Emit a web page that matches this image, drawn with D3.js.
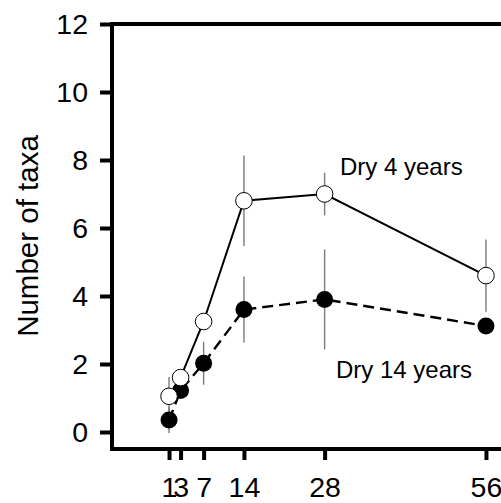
<!DOCTYPE html>
<html>
<head>
<meta charset="utf-8">
<script src="https://cdn.jsdelivr.net/npm/d3@7"></script>
<style>
  html, body { margin: 0; padding: 0; background: #fff; }
  svg { display: block; }
  text { font-family: "Liberation Sans", Arial, sans-serif; fill: #000; }
</style>
</head>
<body>
<svg id="chart" width="501" height="503"></svg>
<script>
// ---- data ----
const days = [1, 3, 7, 14, 28, 56];
const dry4 = [1.05, 1.6, 3.25, 6.8, 7.0, 4.6];
const dry4Err = [0.57, 0.2, 0.15, 1.33, 0.63, 1.06];
const dry14 = [0.35, 1.22, 2.02, 3.6, 3.9, 3.12];
const dry14Err = [0.38, 0.2, 0.63, 0.97, 1.47, 0.2];
const yTicks = [0, 2, 4, 6, 8, 10, 12];
const xTicks = [1, 3, 7, 14, 28, 56];
const yLabel = "Number of taxa";
const label4 = "Dry 4 years";
const label14 = "Dry 14 years";

const svg = d3.select("#chart");
const x = d3.scaleLinear().domain([-8.9, 60]).range([112, 509]);
const y = d3.scaleLinear().domain([-0.5, 12]).range([449, 24]);

// axes
const yAxis = d3.axisLeft(y).tickValues(yTicks).tickSize(12).tickPadding(12).tickFormat(d3.format("d"));
const gy = svg.append("g").attr("transform", `translate(${x.range()[0]},0)`).call(yAxis);
const xAxis = d3.axisBottom(x).tickValues(xTicks).tickSize(11).tickPadding(17).tickFormat(d3.format("d"));
const gx = svg.append("g").attr("transform", `translate(0,${y.range()[0]})`).call(xAxis);
[gx, gy].forEach(g => {
  g.select(".domain").remove();
  g.selectAll(".tick line").attr("stroke", "#000").attr("stroke-width", 4);
  g.selectAll(".tick text").attr("font-size", 28.5).attr("font-family", "'Liberation Sans', Arial, sans-serif");
});

// box frame
svg.append("rect")
  .attr("x", x.range()[0]).attr("y", y.range()[1])
  .attr("width", x.range()[1] - x.range()[0])
  .attr("height", y.range()[0] - y.range()[1])
  .attr("fill", "none").attr("stroke", "#000").attr("stroke-width", 4);

// y label
svg.append("text")
  .attr("transform", `translate(38,236) rotate(-90)`)
  .attr("text-anchor", "middle")
  .attr("font-size", 29.5)
  .text(yLabel);

const s4 = days.map((d, i) => ({ d, v: dry4[i], e: dry4Err[i] }));
const s14 = days.map((d, i) => ({ d, v: dry14[i], e: dry14Err[i] }));

// error bars
[s14, s4].forEach(s => {
  svg.append("g").selectAll("line").data(s).join("line")
    .attr("x1", p => x(p.d)).attr("x2", p => x(p.d))
    .attr("y1", p => y(p.v - p.e)).attr("y2", p => y(p.v + p.e))
    .attr("stroke", "#7a7a7a").attr("stroke-width", 1.4);
});

const line = d3.line().x(p => x(p.d)).y(p => y(p.v));
svg.append("path").datum(s14).attr("d", line)
  .attr("fill", "none").attr("stroke", "#000").attr("stroke-width", 2.4)
  .attr("stroke-dasharray", "11,6");
svg.append("path").datum(s4).attr("d", line)
  .attr("fill", "none").attr("stroke", "#000").attr("stroke-width", 2);

svg.append("g").selectAll("circle").data(s14).join("circle")
  .attr("cx", p => x(p.d)).attr("cy", p => y(p.v)).attr("r", 8.5)
  .attr("fill", "#000");
svg.append("g").selectAll("circle").data(s4).join("circle")
  .attr("cx", p => x(p.d)).attr("cy", p => y(p.v)).attr("r", 8.3)
  .attr("fill", "#fff").attr("stroke", "#000").attr("stroke-width", 1);

// annotations
svg.append("text").attr("x", 340).attr("y", 175).attr("font-size", 24).text(label4);
svg.append("text").attr("x", 336).attr("y", 378).attr("font-size", 24).text(label14);
</script>
</body>
</html>
